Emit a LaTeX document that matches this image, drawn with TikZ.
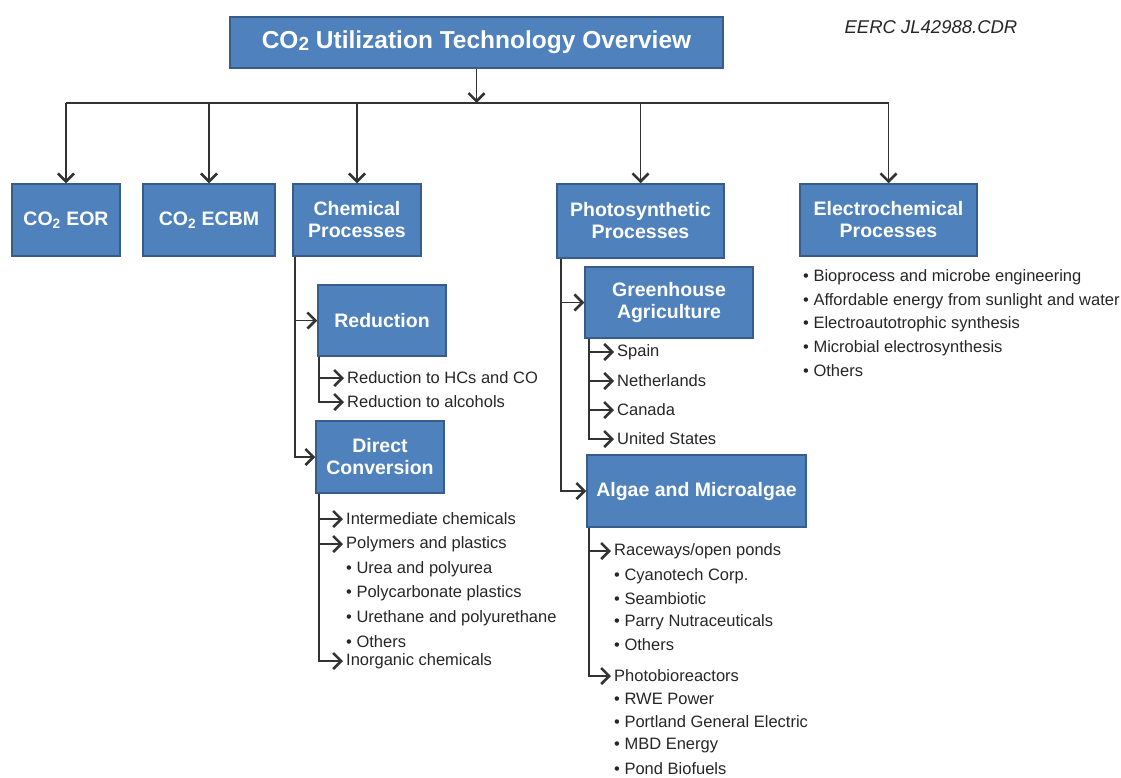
\documentclass[tikz,border=0pt]{standalone}
\usepackage{fontspec}
\setmainfont{Liberation Sans}
\usetikzlibrary{arrows.meta}
\definecolor{boxfill}{HTML}{4F81BD}
\definecolor{boxline}{HTML}{385D8A}
\definecolor{txt}{HTML}{262626}
\begin{document}
\begin{tikzpicture}[x=1pt,y=-1pt,
  box/.style={draw=boxline, line width=1.5pt, fill=boxfill, text=white, font=\fontsize{19.5}{22}\selectfont\bfseries, align=center, inner sep=0pt},
  item/.style={anchor=west, inner sep=1pt, text=txt, font=\fontsize{16.5}{18}\selectfont},
  ln/.style={draw=black!80, line width=1.8pt},
  arr/.style={ln, -{Straight Barb[length=8pt,width=16pt,line width=2.6pt]}},
  sarr/.style={ln, shorten >=2pt, -{Straight Barb[length=8pt,width=16pt,line width=2.6pt]}}
]
\useasboundingbox (0,0) rectangle (1121,777);
% title
\node[box, minimum width=493, minimum height=51, font=\fontsize{24.5}{27}\selectfont\bfseries] (title) at (476.5,42.5) {CO\raisebox{-1.5pt}{\fontsize{19}{19}\selectfont 2} Utilization Technology Overview};
\node[anchor=center, inner sep=0pt, font=\fontsize{18.5}{20}\selectfont\itshape, text=txt] (tag) at (931,27) {EERC JL42988.CDR};
% level 1
\node[box, minimum width=108, minimum height=72] (eor) at (66,220) {CO\textsubscript{2} EOR};
\node[box, minimum width=132, minimum height=72] (ecbm) at (209,220) {CO\textsubscript{2} ECBM};
\node[box, minimum width=128, minimum height=72] (chem) at (357,220) {Chemical\\Processes};
\node[box, minimum width=167, minimum height=74] (photo) at (640.5,221) {Photosynthetic\\Processes};
\node[box, minimum width=177, minimum height=72] (elec) at (888.5,220) {Electrochemical\\Processes};
% bus
\coordinate (bus) at (476.5,103);
\draw[arr] (title.south) -- (bus);
\draw[ln] (eor.north |- bus) -- (elec.north |- bus);
\foreach \n in {eor,ecbm,chem,photo,elec} \draw[arr] (\n.north |- bus) -- (\n.north);
% chemical branch
\node[box, minimum width=128, minimum height=71] (red) at (382,320.5) {Reduction};
\node[box, minimum width=128, minimum height=72] (dc) at (380,457) {Direct\\Conversion};
\draw[arr] ([xshift=3pt]chem.south west) |- (red.west);
\draw[arr] ([xshift=3pt]chem.south west) |- (dc.west);
\node[item] (r1) at (346,378) {Reduction to HCs and CO};
\node[item] (r2) at (346,402) {Reduction to alcohols};
\draw[sarr] ([xshift=2pt]red.south west) |- (r1.west);
\draw[sarr] ([xshift=2pt]red.south west) |- (r2.west);
\node[item] (d1) at (345,519) {Intermediate chemicals};
\node[item] (d2) at (345,544) {Polymers and plastics};
\node[item] (d3) at (345,569) {• Urea and polyurea};
\node[item] (d4) at (345,593) {• Polycarbonate plastics};
\node[item] (d5) at (345,618) {• Urethane and polyurethane};
\node[item] (d6) at (345,642) {• Others};
\node[item] (d7) at (345,661) {Inorganic chemicals};
\draw[sarr] ([xshift=4pt]dc.south west) |- (d1.west);
\draw[sarr] ([xshift=4pt]dc.south west) |- (d2.west);
\draw[sarr] ([xshift=4pt]dc.south west) |- (d7.west);
% photosynthetic branch
\node[box, minimum width=168, minimum height=71] (green) at (669,302.5) {Greenhouse\\Agriculture};
\node[box, minimum width=219, minimum height=72] (algae) at (696.5,491) {Algae and Microalgae};
\draw[arr] ([xshift=5pt]photo.south west) |- (green.west);
\draw[arr] ([xshift=5pt]photo.south west) |- (algae.west);
\node[item] (g1) at (616,352) {Spain};
\node[item] (g2) at (616,381) {Netherlands};
\node[item] (g3) at (616,410) {Canada};
\node[item] (g4) at (616,439) {United States};
\foreach \g in {g1,g2,g3,g4} \draw[sarr] ([xshift=5pt]green.south west) |- (\g.west);
\node[item] (a1) at (613,551) {Raceways/open ponds};
\node[item] (a2) at (613,576) {• Cyanotech Corp.};
\node[item] (a3) at (613,599) {• Seambiotic};
\node[item] (a4) at (613,622) {• Parry Nutraceuticals};
\node[item] (a5) at (613,645) {• Others};
\node[item] (a6) at (613,676) {Photobioreactors};
\node[item] (a7) at (613,699) {• RWE Power};
\node[item] (a8) at (613,722) {• Portland General Electric};
\node[item] (a9) at (613,746) {• MBD Energy};
\node[item] (a10) at (613,769) {• Pond Biofuels};
\draw[sarr] ([xshift=3pt]algae.south west) |- (a1.west);
\draw[sarr] ([xshift=3pt]algae.south west) |- (a6.west);
% electrochemical list
\node[item] (e1) at (802,277) {• Bioprocess and microbe engineering};
\node[item] (e2) at (802,301) {• Affordable energy from sunlight and water};
\node[item] (e3) at (802,324) {• Electroautotrophic synthesis};
\node[item] (e4) at (802,348) {• Microbial electrosynthesis};
\node[item] (e5) at (802,371) {• Others};
\end{tikzpicture}
\end{document}
